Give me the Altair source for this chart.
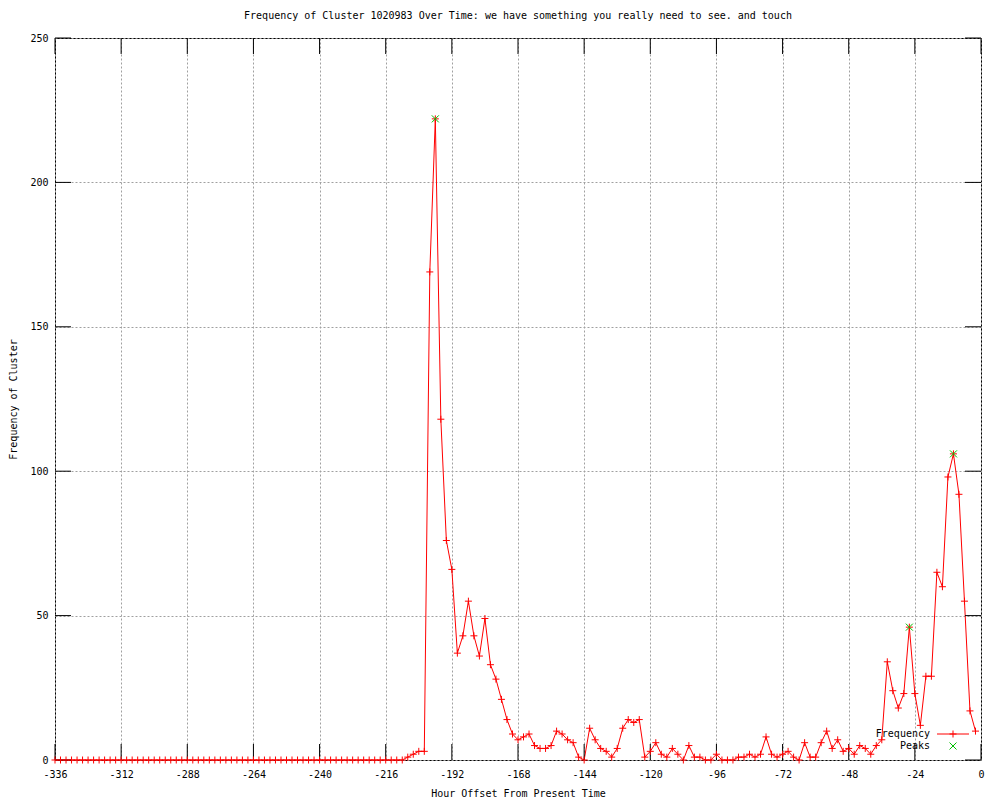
import altair as alt
import pandas as pd

# ---- data ----
hours = list(range(-336, 0, 2))
counts = [
    0, 0, 0, 0, 0, 0, 0, 0, 0, 0, 0, 0, 0, 0, 0, 0,
    0, 0, 0, 0, 0, 0, 0, 0, 0, 0, 0, 0, 0, 0, 0, 0,
    0, 0, 0, 0, 0, 0, 0, 0, 0, 0, 0, 0, 0, 0, 0, 0,
    0, 0, 0, 0, 0, 0, 0, 0, 0, 0, 0, 0, 0, 0, 0, 0,
    1, 2, 3, 3, 169, 222, 118, 76, 66, 37,
    43, 55, 43, 36, 49, 33, 28, 21, 14, 9,
    7, 8, 9, 5, 4, 4, 5, 10, 9, 7,
    6, 1, 0, 11, 7, 4, 3, 1, 4, 11,
    14, 13, 14, 1, 3, 6, 2, 1, 4, 2,
    0, 5, 1, 1, 0, 0, 2, 0, 0, 0,
    1, 1, 2, 1, 2, 8, 2, 1, 2, 3,
    1, 0, 6, 1, 1, 6, 10, 4, 7, 3,
    4, 2, 5, 4, 2, 5, 7, 34, 24, 18,
    23, 46, 23, 12, 29, 29, 65, 60, 98, 106,
    92, 55, 17, 10,
]
assert len(hours) == len(counts)
peak_hours = [-198, -26, -10]
peak_counts = [222, 46, 106]
x_ticks = [-336, -312, -288, -264, -240, -216, -192, -168, -144, -120, -96, -72, -48, -24, 0]
y_ticks = [0, 50, 100, 150, 200, 250]

title_text = "Frequency of Cluster 1020983 Over Time: we have something you really need to see. and touch"

# ---- style ----
W, H = 926, 722
FONT = "DejaVu Sans Mono"
RED = "#ff0000"
GREEN = "#00c000"
PLUS = "M-1,0L1,0M0,-1L0,1"
CROSS = "M-1,-1L1,1M-1,1L1,-1"
TICK = 16

df = pd.DataFrame({"hour": hours, "count": counts})
pk = pd.DataFrame({"hour": peak_hours, "count": peak_counts})
xt = pd.DataFrame({"hour": x_ticks})
yt = pd.DataFrame({"count": y_ticks})
one = pd.DataFrame({"k": [0]})

xscale = alt.Scale(domain=[-336, 0], nice=False, zero=False)
yscale = alt.Scale(domain=[0, 250], nice=False, zero=True)

xaxis = alt.Axis(values=x_ticks, title="Hour Offset From Present Time", grid=True,
                 ticks=False, domain=False, labelPadding=9, titlePadding=9,
                 labelExpr="'' + datum.value", labelFlush=False, labelOverlap=False)
yaxis = alt.Axis(values=y_ticks, title="Frequency of Cluster", grid=True,
                 ticks=False, domain=False, labelPadding=7, titlePadding=11,
                 labelExpr="'' + datum.value", labelFlush=False, labelOverlap=False)

X = alt.X("hour:Q", scale=xscale, axis=xaxis)
Y = alt.Y("count:Q", scale=yscale, axis=yaxis)

line = alt.Chart(df).mark_line(color=RED, strokeWidth=1).encode(x=X, y=Y)
pts = alt.Chart(df).mark_point(shape=PLUS, filled=False, size=49, color=RED,
                               strokeWidth=1, opacity=1).encode(x=X, y=Y)
peaks = alt.Chart(pk).mark_point(shape=CROSS, filled=False, size=49, color=GREEN,
                                 strokeWidth=1, opacity=1).encode(x=X, y=Y)

bot_ticks = alt.Chart(xt).mark_rule(color="black", strokeWidth=1).encode(
    x=X, y=alt.value(H - TICK), y2=alt.value(H))
top_ticks = alt.Chart(xt).mark_rule(color="black", strokeWidth=1).encode(
    x=X, y=alt.value(0), y2=alt.value(TICK))
left_ticks = alt.Chart(yt).mark_rule(color="black", strokeWidth=1).encode(
    y=Y, x=alt.value(0), x2=alt.value(TICK))
right_ticks = alt.Chart(yt).mark_rule(color="black", strokeWidth=1).encode(
    y=Y, x=alt.value(W - TICK), x2=alt.value(W))

# ---- legend (gnuplot style: label left, sample right) ----
leg_y1, leg_y2 = 696, 708
leg_txt1 = alt.Chart(one).mark_text(text="Frequency", align="right", baseline="middle",
                                    font=FONT, fontSize=10, color="black").encode(
    x=alt.value(875), y=alt.value(leg_y1))
leg_txt2 = alt.Chart(one).mark_text(text="Peaks", align="right", baseline="middle",
                                    font=FONT, fontSize=10, color="black").encode(
    x=alt.value(875), y=alt.value(leg_y2))
leg_line = alt.Chart(one).mark_rule(color=RED, strokeWidth=1).encode(
    x=alt.value(882), x2=alt.value(914), y=alt.value(leg_y1))
leg_plus = alt.Chart(one).mark_point(shape=PLUS, filled=False, size=49, color=RED,
                                     strokeWidth=1, opacity=1).encode(
    x=alt.value(898), y=alt.value(leg_y1))
leg_cross = alt.Chart(one).mark_point(shape=CROSS, filled=False, size=49, color=GREEN,
                                      strokeWidth=1, opacity=1).encode(
    x=alt.value(898), y=alt.value(leg_y2))

chart = alt.layer(
    line, bot_ticks, top_ticks, left_ticks, right_ticks, pts, peaks,
    leg_txt1, leg_txt2, leg_line, leg_plus, leg_cross,
).properties(
    width=W, height=H,
    title=alt.TitleParams(text=title_text, font=FONT, fontSize=10, fontWeight="normal",
                          color="black", anchor="middle", frame="group", offset=12),
    autosize=alt.AutoSizeParams(type="none"),
    padding={"left": 47, "top": 30, "right": 11, "bottom": 38},
    background="white",
).configure_view(
    stroke="black", strokeWidth=1,
).configure_axis(
    labelFont=FONT, labelFontSize=10, labelColor="black",
    titleFont=FONT, titleFontSize=10, titleFontWeight="normal", titleColor="black",
    gridColor="#a0a0a0", gridDash=[2, 2], gridWidth=1, gridOpacity=1,
)

chart.save("out.html", embed_options={"renderer": "svg", "actions": False})
